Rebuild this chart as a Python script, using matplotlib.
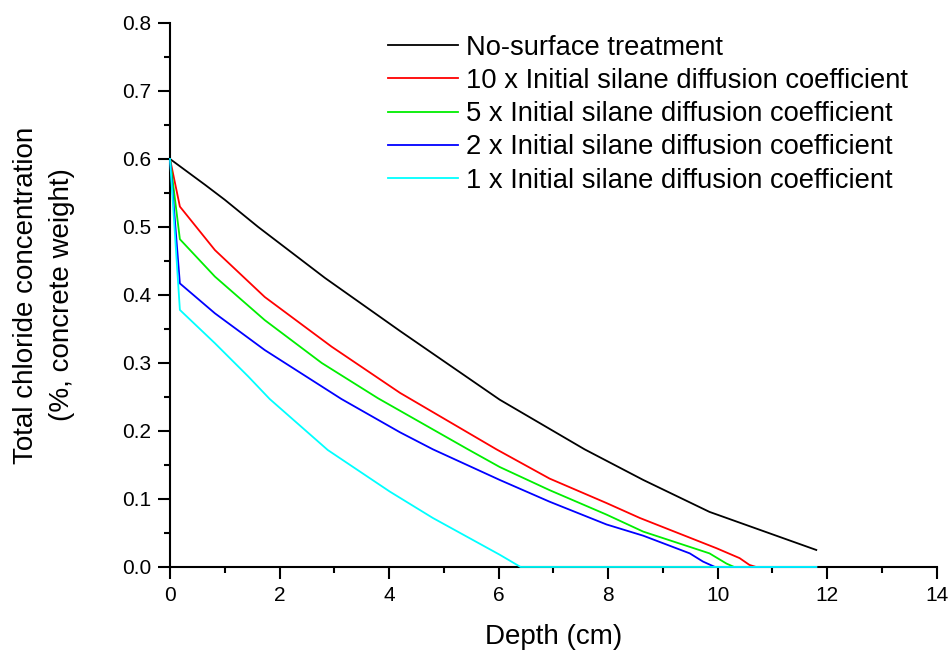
import numpy as np
import matplotlib
matplotlib.use("Agg")
from matplotlib import pyplot as plt
from matplotlib.ticker import MultipleLocator

plt.rcParams['font.family'] = ['Liberation Sans', 'DejaVu Sans']

# 読み取ったデータ (深さ cm, 塩化物濃度 %)
depth_none = [0, 0.64, 1.0, 1.61, 2.83, 4.2, 6.02, 7.57, 8.64, 9.85, 11.8]
conc_none = [0.6, 0.562, 0.54, 0.50, 0.425, 0.347, 0.246, 0.173, 0.128, 0.081, 0.025]

depth_10x = [0, 0.18, 0.82, 1.73, 2.95, 4.2, 5.96, 6.93, 7.97, 8.58, 9.98, 10.4, 10.58, 10.7, 11.8]
conc_10x = [0.6, 0.53, 0.466, 0.397, 0.324, 0.256, 0.173, 0.130, 0.094, 0.072, 0.0275, 0.013, 0.003, 0.0, 0.0]

depth_5x = [0, 0.18, 0.82, 1.73, 2.77, 3.8, 5.44, 6.02, 6.93, 7.97, 8.64, 9.85, 10.16, 10.3, 11.8]
conc_5x = [0.6, 0.482, 0.427, 0.363, 0.30, 0.248, 0.173, 0.147, 0.113, 0.077, 0.052, 0.020, 0.005, 0.0, 0.0]

depth_2x = [0, 0.18, 0.82, 1.73, 3.13, 4.2, 4.8, 6.02, 6.93, 7.97, 8.64, 9.49, 9.73, 9.95, 11.8]
conc_2x = [0.6, 0.417, 0.373, 0.319, 0.247, 0.198, 0.173, 0.128, 0.096, 0.0625, 0.046, 0.020, 0.008, 0.0, 0.0]

depth_1x = [0, 0.18, 0.82, 1.43, 1.82, 2.88, 4.01, 4.8, 6.02, 6.4, 11.8]
conc_1x = [0.6, 0.378, 0.329, 0.28, 0.247, 0.172, 0.111, 0.072, 0.018, 0.0, 0.0]

series = [
    (depth_none, conc_none, 'black', 'No-surface treatment'),
    (depth_10x, conc_10x, 'red', '10 x Initial silane diffusion coefficient'),
    (depth_5x, conc_5x, '#00ee00', '5 x Initial silane diffusion coefficient'),
    (depth_2x, conc_2x, 'blue', '2 x Initial silane diffusion coefficient'),
    (depth_1x, conc_1x, 'cyan', '1 x Initial silane diffusion coefficient'),
]

fig = plt.figure(figsize=(9.52, 6.55), dpi=100)
ax = fig.add_axes([0.1786, 0.1344, 0.8054, 0.8305])

for x, y, c, lab in series:
    ax.plot(x, y, color=c, lw=1.3, label=lab, zorder=3, clip_on=False)

ax.set_xlim(0, 14)
ax.set_ylim(0, 0.8)
ax.xaxis.set_major_locator(MultipleLocator(2))
ax.xaxis.set_minor_locator(MultipleLocator(1))
ax.yaxis.set_major_locator(MultipleLocator(0.1))
ax.yaxis.set_minor_locator(MultipleLocator(0.05))
ax.yaxis.set_major_formatter(plt.FormatStrFormatter('%.1f'))

for s in ['top', 'right']:
    ax.spines[s].set_visible(False)
for s in ['left', 'bottom']:
    ax.spines[s].set_linewidth(1.5)

ax.tick_params(which='major', direction='out', length=8.5, width=1.5, labelsize=15, pad=5)
ax.tick_params(which='minor', direction='out', length=4.5, width=1.5)

ax.set_xlabel('Depth (cm)', fontsize=20, labelpad=14)
ax.set_ylabel('Total chloride concentration\n(%, concrete weight)', fontsize=20,
              labelpad=34, linespacing=1.5)

ax.legend(loc='upper left', bbox_to_anchor=(0.4076, 0.947), bbox_transform=fig.transFigure,
          frameon=False, fontsize=19.7, borderpad=0, borderaxespad=0,
          handlelength=2.55, handletextpad=0.3, labelspacing=0.265)

fig.savefig('out.png', dpi=100)
